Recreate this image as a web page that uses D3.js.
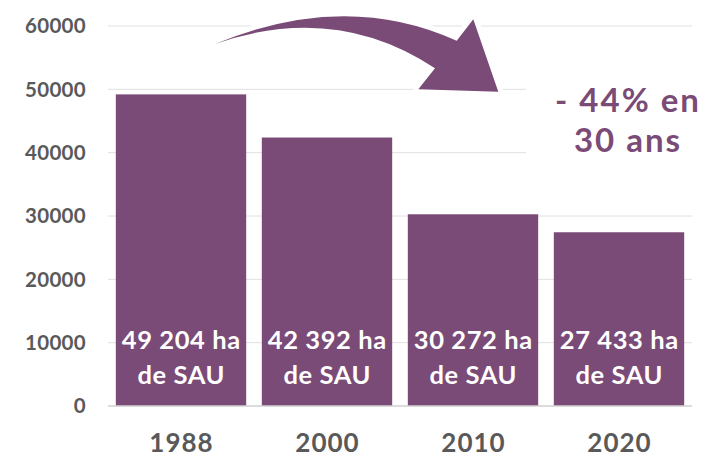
<!DOCTYPE html>
<html><head><meta charset="utf-8">
<script src="https://cdn.jsdelivr.net/npm/d3@7/dist/d3.min.js"></script>
<style>body{margin:0;background:#fff}svg{display:block}text{font-family:Lato,"Open Sans",sans-serif}</style>
</head><body>
<svg id="c" width="709" height="457"></svg>
<script>
const years = ["1988", "2000", "2010", "2020"];
const sau = [49204, 42392, 30272, 27433];
const yTicks = [0, 10000, 20000, 30000, 40000, 50000, 60000];
const noteLines = ["- 44% en", "30 ans"];

const purple = "#7b4b77";
const svg = d3.select("#c");
const x = d3.scaleBand().domain(years).range([108, 692]).paddingInner(0.107).paddingOuter(0.0535);
const y = d3.scaleLinear().domain([0, 60000]).range([406, 26]);

// gridlines
svg.append("g").selectAll("line").data(yTicks.filter(d => d > 0)).join("line")
  .attr("x1", 108).attr("x2", 692).attr("y1", d => y(d)).attr("y2", d => y(d))
  .attr("stroke", "#e0e0e0").attr("stroke-width", 1);

// bars
const data = years.map((yr, i) => ({yr, v: sau[i]}));
svg.append("g").selectAll("rect").data(data).join("rect")
  .attr("x", d => x(d.yr)).attr("width", x.bandwidth())
  .attr("y", d => y(d.v)).attr("height", d => y(0) - y(d.v))
  .attr("fill", purple);

// baseline
svg.append("line").attr("x1", 108).attr("x2", 692).attr("y1", y(0)).attr("y2", y(0))
  .attr("stroke", "#d0d0d0").attr("stroke-width", 1.5);

// y axis labels
svg.append("g").selectAll("text").data(yTicks).join("text")
  .attr("x", 86).attr("y", d => y(d)).attr("dy", "0.35em")
  .attr("text-anchor", "end").attr("fill", "#595959")
  .attr("font-size", 20.5).attr("font-weight", "bold").attr("letter-spacing", 0.3).text(d => d);

// x labels
svg.append("g").selectAll("text").data(years).join("text")
  .attr("x", d => x(d) + x.bandwidth() / 2 + 0.5).attr("y", y(0) + 46)
  .attr("text-anchor", "middle").attr("fill", "#595959")
  .attr("font-size", 26).attr("font-weight", "bold").attr("letter-spacing", 1).text(d => d);

// bar labels
const fmt = v => d3.format(",")(v).replace(",", " ") + " ha";
const lbl = svg.append("g").selectAll("text").data(data).join("text")
  .attr("text-anchor", "middle").attr("fill", "#fff")
  .attr("font-size", 25.5).attr("font-weight", "bold").attr("letter-spacing", 0.6);
lbl.append("tspan").attr("x", d => x(d.yr) + x.bandwidth() / 2 + 0.3).attr("y", y(0) - 57).text(d => fmt(d.v));
lbl.append("tspan").attr("x", d => x(d.yr) + x.bandwidth() / 2 + 0.3).attr("y", y(0) - 22).text("de SAU");

// annotation
svg.append("rect").attr("x", 526).attr("y", 80).attr("width", 183).attr("height", 82).attr("fill", "#fff");
svg.append("g").selectAll("text").data(noteLines).join("text")
  .attr("x", 628).attr("y", (d, i) => 112 + i * 40)
  .attr("text-anchor", "middle").attr("fill", purple)
  .attr("font-size", 33).attr("font-weight", "bold").attr("letter-spacing", 2).text(d => d);

// arrow
const arrow = "M215,44 Q345,-10 456.7,40.7 L473.3,19.3 L498.3,91.7 L418.3,89.3 L435,68.3 Q335,2 215,44 Z";
svg.append("path").attr("d", arrow).attr("fill", "#fff").attr("stroke", "#fff").attr("stroke-width", 10).attr("stroke-linejoin", "round");
svg.append("path").attr("d", arrow).attr("fill", purple);
</script>
</body></html>
